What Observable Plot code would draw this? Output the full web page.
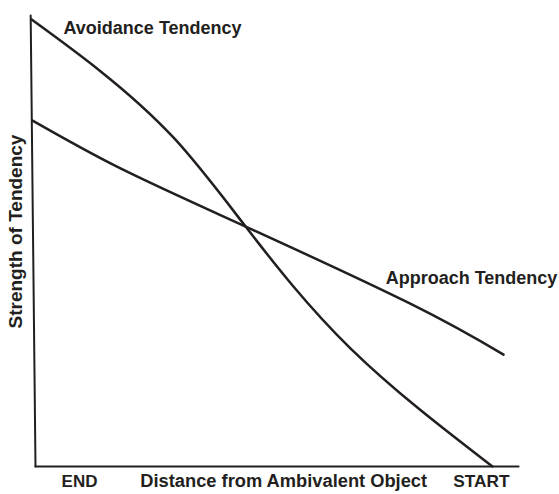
<!DOCTYPE html>
<html>
<head>
<meta charset="utf-8">
<script src="https://cdn.jsdelivr.net/npm/d3@7"></script>
<script src="https://cdn.jsdelivr.net/npm/@observablehq/plot@0.6"></script>
<style>
  html, body { margin: 0; padding: 0; background: #fff; }
</style>
</head>
<body>
<div id="chart"></div>
<script>
// Distance (0 = END, 100 = START) and strength (0..100)
const avoidanceX = [-0.8, 13.5, 28.6, 43.5, 65.2, 94.6];
const avoidanceY = [99.1, 87.6, 72.9, 53.2, 26.2, 0];
const approachX = [-0.6, 17.6, 43.5, 77.6, 96.9];
const approachY = [76.7, 66.1, 53.2, 36.1, 24.8];
// axis lines
const yAxisX = [-1, 0];
const yAxisY = [100, 0];
const xAxisX = [0, 100];
const xAxisY = [0, 0];
// texts
const curveLabels = ["Avoidance Tendency", "Approach Tendency"];
const xTickLabels = ["END", "START"];
const xTitle = "Distance from Ambivalent Object";
const yTitle = "Strength of Tendency";

const avoidance = avoidanceX.map((x, i) => ({x, y: avoidanceY[i]}));
const approach = approachX.map((x, i) => ({x, y: approachY[i]}));
const yAxisLine = yAxisX.map((x, i) => ({x, y: yAxisY[i]}));
const xAxisLine = xAxisX.map((x, i) => ({x, y: xAxisY[i]}));

const ink = "#231f20";
const font = "'Liberation Sans', Arial, Helvetica, sans-serif";

const chart = Plot.plot({
  width: 559,
  height: 494,
  marginLeft: 35,
  marginRight: 41,
  marginTop: 15,
  marginBottom: 28,
  x: {domain: [0, 100], axis: null},
  y: {domain: [0, 100], axis: null},
  style: {fontFamily: font, background: "#fff", color: ink},
  marks: [
    Plot.line(yAxisLine, {x: "x", y: "y", stroke: ink, strokeWidth: 2}),
    Plot.line(xAxisLine, {x: "x", y: "y", stroke: ink, strokeWidth: 2.2}),
    Plot.line(avoidance, {x: "x", y: "y", curve: "natural", stroke: ink, strokeWidth: 2.5}),
    Plot.line(approach, {x: "x", y: "y", curve: "natural", stroke: ink, strokeWidth: 2.5}),
    Plot.text([curveLabels[0]], {x: 5.8, y: 97.1, text: d => d, textAnchor: "start", fontSize: 18, fontWeight: "bold", fill: ink}),
    Plot.text([curveLabels[1]], {x: 72.5, y: 41.8, text: d => d, textAnchor: "start", fontSize: 18, fontWeight: "bold", fill: ink}),
    Plot.text([xTickLabels[0]], {x: 5.4, y: -3.33, text: d => d, textAnchor: "start", fontSize: 17, fontWeight: "bold", fill: ink}),
    Plot.text([xTitle], {x: 21.7, y: -3.33, text: d => d, textAnchor: "start", fontSize: 18.3, fontWeight: "bold", fill: ink}),
    Plot.text([xTickLabels[1]], {x: 86.5, y: -3.33, text: d => d, textAnchor: "start", fontSize: 17.3, fontWeight: "bold", fill: ink}),
    Plot.text([yTitle], {x: -4.1, y: 52.1, text: d => d, rotate: -90, textAnchor: "middle", fontSize: 19, fontWeight: "bold", fill: ink})
  ]
});
document.getElementById("chart").appendChild(chart);
</script>
</body>
</html>
